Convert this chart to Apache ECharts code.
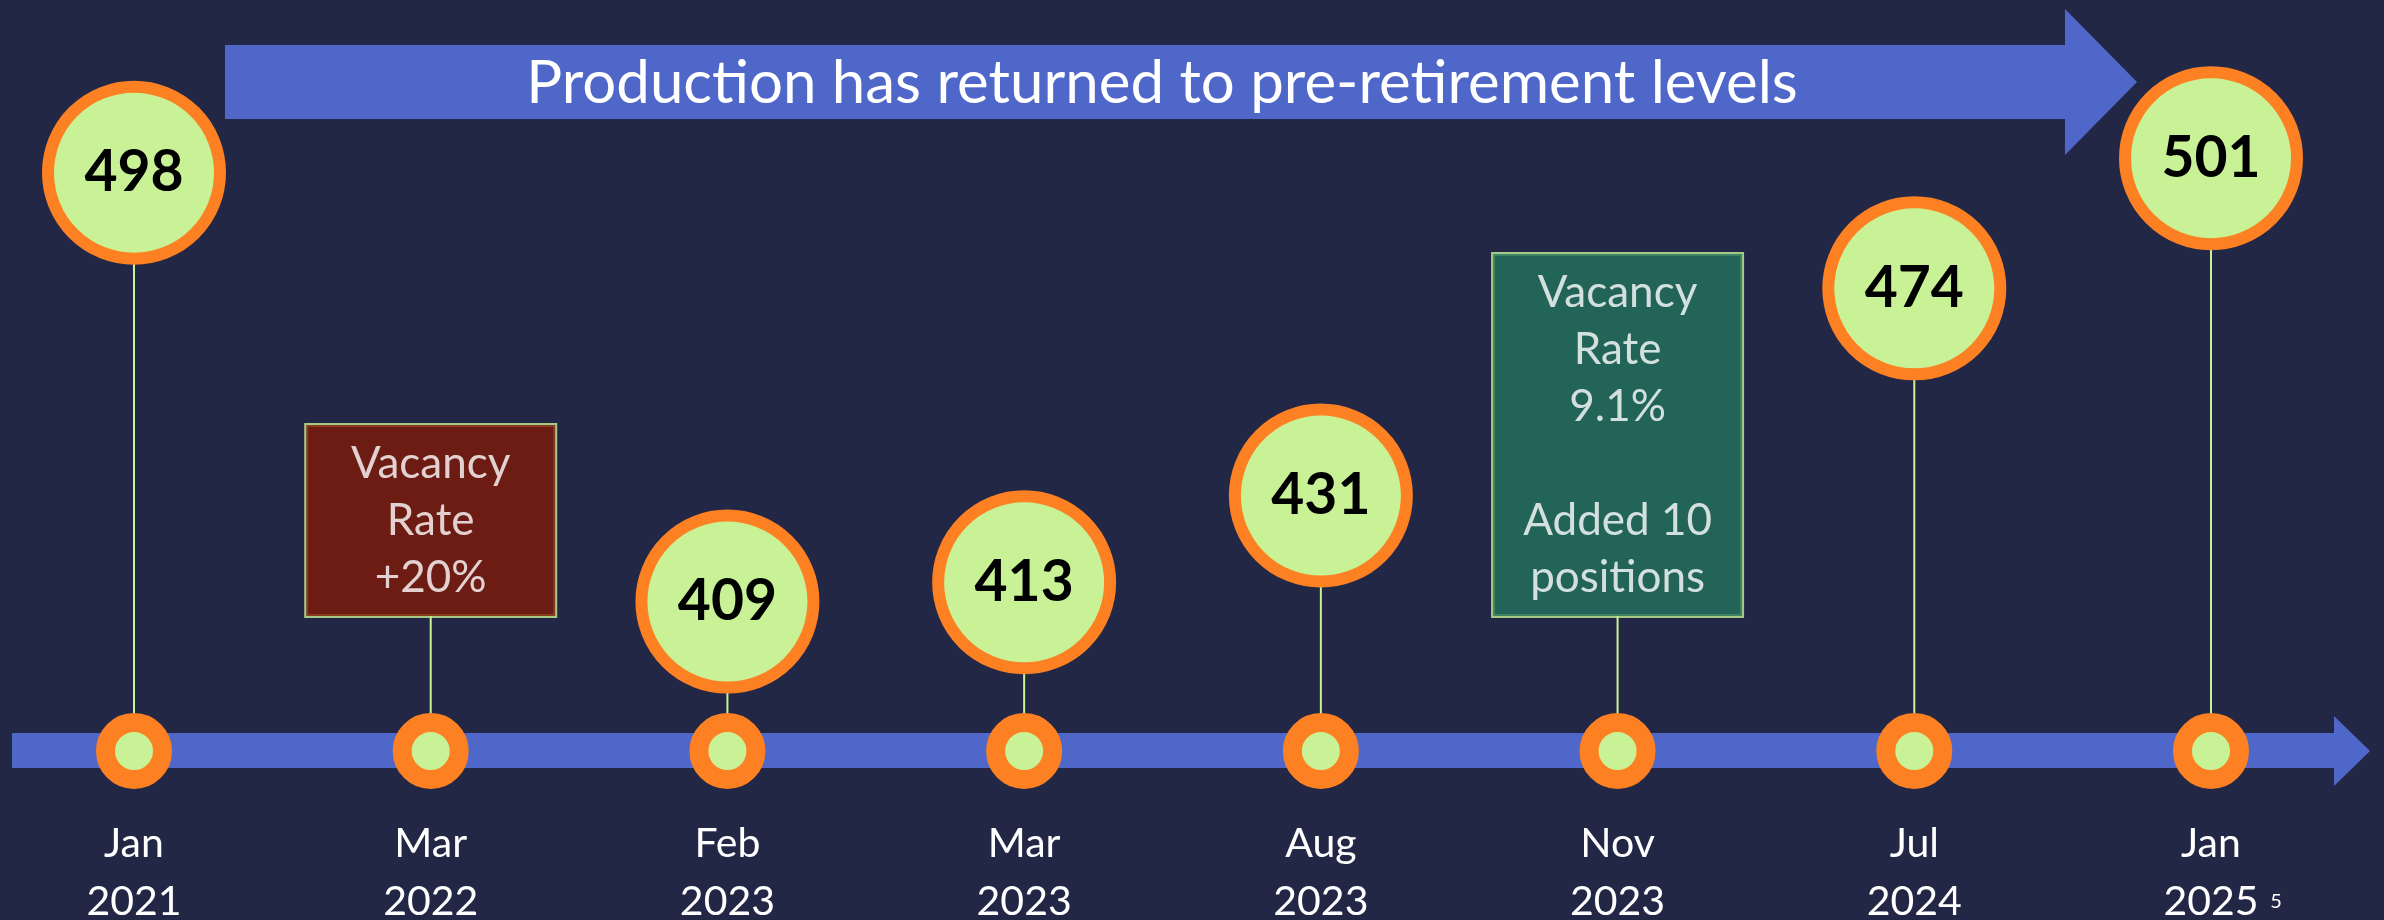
<!DOCTYPE html>
<html>
<head>
<meta charset="utf-8">
<title>Production timeline</title>
<script src="https://cdn.jsdelivr.net/npm/echarts@6/dist/echarts.min.js"></script>
<style>
html, body { margin: 0; padding: 0; background: #222746; }
#timeline { width: 2384px; height: 920px; }
</style>
</head>
<body>
<div id="timeline"></div>
<script>
// 时间轴上的月份
var months = ["Jan\n2021", "Mar\n2022", "Feb\n2023", "Mar\n2023", "Aug\n2023", "Nov\n2023", "Jul\n2024", "Jan\n2025"];
// 产量，没有数字的月份为 null
var production = [498, null, 409, 413, 431, null, 474, 501];
// 说明框文字和底色
var notes = [null, "Vacancy\nRate\n+20%", null, null, null, "Vacancy\nRate\n9.1%\n\nAdded 10\npositions", null, null];
var noteColors = [null, "#811a07", null, null, null, "#24745e", null, null];
var banner = "Production has returned to pre-retirement levels";
var pageNo = "5";

var yMin = 378; // 时间轴所在的值
var yMax = 533;
var noteLevel = 406; // 说明框底边

var chart = echarts.init(document.getElementById("timeline"));

var stems = [];
var circles = [];
var markers = [];
var boxes = [];
for (var i = 0; i < months.length; i++) {
  markers.push([i, yMin]);
  if (production[i] != null) {
    stems.push(production[i]);
    circles.push([i, production[i]]);
  } else if (notes[i]) {
    stems.push(noteLevel);
    boxes.push({
      value: [i, noteLevel],
      label: { formatter: notes[i], backgroundColor: noteColors[i] },
    });
  } else {
    stems.push(null);
  }
}

var font = "Lato, 'Open Sans', sans-serif";
var blue = "#4f67c8";
var green = "#c9f296";
var orange = "#fd8123";

var option = {
  backgroundColor: "#222746",
  animation: false,
  grid: {
    left: 134,
    right: 173,
    top: 4,
    bottom: 169,
    containLabel: false,
    outerBoundsMode: "none",
  },
  xAxis: {
    type: "category",
    data: months,
    boundaryGap: false,
    axisLine: { show: false },
    axisTick: { show: false },
    splitLine: { show: false },
    axisLabel: {
      color: "#ffffff",
      fontFamily: font,
      fontSize: 41,
      lineHeight: 58,
      margin: 64,
      interval: 0,
    },
  },
  yAxis: {
    type: "value",
    show: false,
    min: yMin,
    max: yMax,
    splitLine: { show: false },
  },
  graphic: [
    {
      type: "polygon",
      z: 1,
      shape: {
        points: [[225, 45], [2065, 45], [2065, 9], [2137, 82], [2065, 155], [2065, 119], [225, 119]],
      },
      style: { fill: blue },
    },
    {
      type: "text",
      z: 1,
      x: 1162,
      y: 84,
      style: {
        text: banner,
        fill: "#ffffff",
        font: "60px " + font,
        textAlign: "center",
        textVerticalAlign: "middle",
      },
    },
    {
      type: "polygon",
      z: 1,
      shape: {
        points: [[12, 733], [2334, 733], [2334, 716], [2370, 751], [2334, 786], [2334, 768], [12, 768]],
      },
      style: { fill: blue },
    },
    {
      type: "text",
      z: 1,
      x: 2276,
      y: 902,
      style: {
        text: pageNo,
        fill: "#ffffff",
        font: "20px " + font,
        textAlign: "center",
        textVerticalAlign: "middle",
      },
    },
  ],
  series: [
    {
      name: "stem",
      type: "bar",
      barWidth: 2,
      z: 2,
      silent: true,
      itemStyle: { color: green },
      data: stems,
    },
    {
      name: "marker",
      type: "scatter",
      z: 3,
      clip: false,
      symbolSize: 57,
      itemStyle: { color: green, borderColor: orange, borderWidth: 19, opacity: 1 },
      data: markers,
    },
    {
      name: "production",
      type: "scatter",
      z: 4,
      clip: false,
      symbolSize: 172,
      itemStyle: { color: green, borderColor: orange, borderWidth: 12, opacity: 1 },
      label: {
        show: true,
        position: "inside",
        formatter: function (p) {
          return p.value[1];
        },
        color: "#000000",
        fontFamily: font,
        fontWeight: "bold",
        fontSize: 57,
      },
      data: circles,
    },
    {
      name: "notes",
      type: "scatter",
      z: 4,
      clip: false,
      symbolSize: 0,
      label: {
        show: true,
        position: "top",
        distance: 0,
        color: "#ffffff",
        fontFamily: font,
        fontSize: 44,
        lineHeight: 57,
        width: 245,
        align: "center",
        padding: [10, 2],
        borderColor: green,
        borderWidth: 2,
      },
      data: boxes,
    },
  ],
};

chart.setOption(option);
</script>
</body>
</html>
